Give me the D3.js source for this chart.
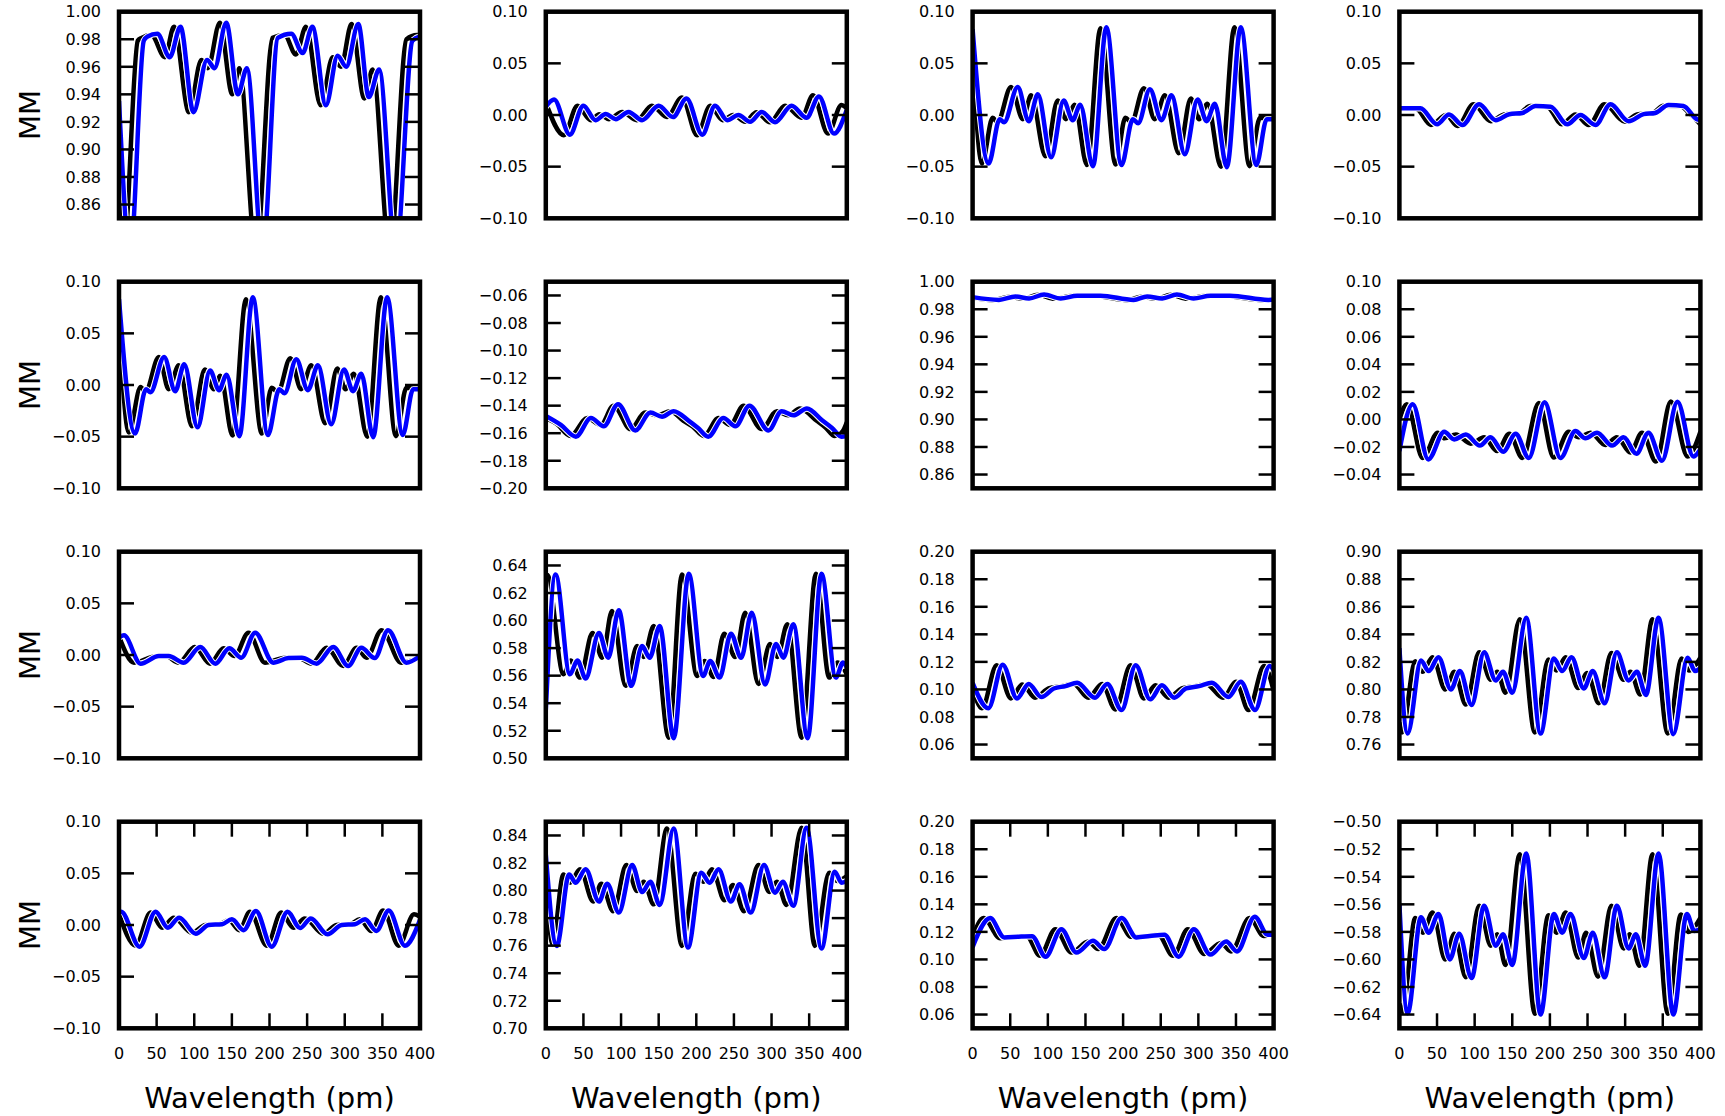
<!DOCTYPE html>
<html><head><meta charset="utf-8">
<script src="https://cdn.jsdelivr.net/npm/d3@7"></script>
<style>
body{margin:0;background:#fff}
svg{display:block}
text{font-family:"DejaVu Sans",sans-serif;fill:#000}
</style>
</head><body>
<svg id="chart" width="1725" height="1116"></svg>
<script>
// ---------------- data (wavelength in pm, Mueller-matrix value) ----------------
const wavelengthTicks = [0,50,100,150,200,250,300,350,400];

const m11Black = [[0,0.90],[6,0.825],[25,0.979],[30,0.981],[43,0.983],[61,0.967],[73,0.989],[93,0.927],[109.5,0.965],[118,0.959],[134,0.992],[150.5,0.94],[160,0.959],[182,0.825],[204,0.981],[220,0.983],[235,0.969],[248.5,0.989],[268,0.932],[284,0.967],[295,0.96],[309,0.991],[326,0.937],[337,0.958],[360,0.825],[382,0.98],[396,0.983],[400,0.983]];
const m11Blue = [[0,0.935],[15,0.825],[33,0.979],[38,0.982],[51,0.984],[67.5,0.967],[81.7,0.989],[99,0.927],[117,0.965],[127,0.959],[142.6,0.992],[158,0.94],[170,0.959],[191,0.825],[211,0.981],[229,0.984],[244,0.97],[257,0.989],[275,0.932],[290.5,0.968],[302,0.96],[318,0.991],[332,0.938],[345.7,0.958],[368,0.825],[390,0.979],[400,0.982]];

const m12Black = [[0,0.012],[24,-0.0195],[42,0.009],[60,-0.005],[71,0.0007],[84,-0.004],[101.5,0.003],[121,-0.005],[141,0.009],[161,-0.002],[181,0.017],[201,-0.0195],[218.5,0.009],[235,-0.005],[249,0.0],[265,-0.0065],[280,0.0026],[298,-0.007],[318,0.009],[340,-0.0026],[355,0.019],[375,-0.018],[393,0.0097],[400,0.0065]];
const m12Blue = [[0,0.008],[11,0.015],[32,-0.019],[50,0.009],[66,-0.005],[79.5,0.001],[93,-0.004],[110,0.003],[128,-0.005],[150,0.009],[169,-0.002],[187,0.016],[208,-0.019],[225,0.009],[241,-0.005],[256,0.0],[271.5,-0.0065],[287,0.003],[304.6,-0.007],[326.7,0.009],[346.6,-0.0026],[363,0.018],[383,-0.018],[400,0.005]];

const m13Black = [[0,0.06],[12.4,-0.047],[26.7,-0.0026],[33,-0.007],[51,0.027],[66.7,-0.004],[77.8,0.019],[96.9,-0.04],[113,0.014],[124,-0.004],[135.6,0.010],[152,-0.0485],[170,0.084],[190,-0.048],[203,-0.0026],[211,-0.007],[227.6,0.026],[242,-0.004],[255.6,0.019],[274,-0.037],[290,0.016],[301,-0.004],[312,0.011],[330,-0.05],[348,0.085],[368,-0.0495],[382,-0.0026],[400,-0.003]];
const m13Blue = [[0,0.083],[21.3,-0.047],[36,-0.004],[41.8,-0.007],[60,0.027],[74.7,-0.006],[86.7,0.020],[104.4,-0.041],[121,0.014],[133,-0.005],[143,0.010],[160,-0.0495],[177.8,0.085],[197.8,-0.0485],[213,-0.004],[220,-0.008],[235.6,0.025],[251,-0.005],[264.4,0.019],[282,-0.038],[299,0.015],[311,-0.006],[322,0.011],[337.8,-0.0505],[356.4,0.085],[377,-0.0485],[391,-0.004],[400,-0.004]];

const m14Black = [[0,0.006],[22,0.006],[42,-0.0097],[62,0.0],[77.3,-0.0107],[98.5,0.0104],[121.4,-0.006],[139,0.0006],[159,0.0016],[174,0.0087],[196.5,0.0078],[216,-0.009],[234,0.0006],[251.6,-0.0097],[272.4,0.0104],[300,-0.0065],[315.7,0.0006],[335.5,0.0016],[351,0.009],[373,0.0087],[386.5,0.0006],[400,-0.009]];
const m14Blue = [[0,0.0065],[28,0.0065],[50,-0.009],[66,0.0006],[84,-0.0097],[106,0.0104],[128,-0.005],[146,0.0008],[163.5,0.002],[181,0.0087],[201,0.008],[223,-0.009],[240.7,0.0],[260.6,-0.0097],[280.6,0.0104],[304.6,-0.006],[324.5,0.0008],[340,0.002],[357.6,0.0097],[377.5,0.0087],[395,-0.004],[400,-0.005]];

const m21Black = [[0,0.062],[13,-0.046],[28.7,-0.002],[35,-0.007],[53,0.027],[66,-0.004],[79.5,0.019],[97,-0.04],[114,0.015],[126,-0.004],[134.7,0.009],[151,-0.049],[168.7,0.083],[189.8,-0.047],[203,-0.0026],[211,-0.007],[227.6,0.026],[242,-0.004],[255.6,0.019],[274,-0.037],[290,0.016],[301,-0.004],[312,0.011],[330,-0.05],[348,0.085],[368,-0.0495],[382,-0.0026],[400,-0.003]];
const m21Blue = [[0,0.083],[21.3,-0.047],[36,-0.004],[41.8,-0.007],[60,0.027],[74.7,-0.006],[86.7,0.020],[104.4,-0.041],[121,0.014],[133,-0.005],[143,0.010],[160,-0.0495],[177.8,0.085],[197.8,-0.0485],[213,-0.004],[220,-0.008],[235.6,0.025],[251,-0.005],[264.4,0.019],[282,-0.038],[299,0.015],[311,-0.006],[322,0.011],[337.8,-0.0505],[356.4,0.085],[377,-0.0485],[391,-0.004],[400,-0.004]];

const m22Black = [[0,-0.149],[14,-0.153],[33,-0.162],[55,-0.149],[73,-0.154],[90,-0.140],[112.6,-0.157],[132,-0.145],[148,-0.147],[165.5,-0.144],[183,-0.151],[195,-0.155],[210,-0.162],[229.6,-0.149],[245,-0.154],[262.7,-0.140],[287,-0.157],[307,-0.144],[322,-0.147],[337.7,-0.142],[360,-0.151],[372,-0.156],[384,-0.162],[394,-0.159],[400,-0.152]];
const m22Blue = [[0,-0.1475],[20,-0.154],[40,-0.1625],[60,-0.149],[77,-0.155],[96,-0.139],[119,-0.158],[139,-0.145],[154.5,-0.148],[170,-0.144],[190,-0.151],[202,-0.156],[216,-0.1625],[236,-0.149],[252,-0.155],[270.6,-0.140],[296,-0.158],[313.5,-0.144],[329,-0.147],[347,-0.142],[368,-0.151],[380,-0.156],[393,-0.1625],[400,-0.162]];

const m23Black = [[0,0.9885],[27,0.9866],[49,0.9891],[67,0.9876],[87,0.9905],[109,0.9876],[131,0.9896],[162,0.9896],[206,0.9866],[224,0.9891],[244,0.9876],[263.5,0.9905],[285.6,0.9876],[308,0.9896],[334,0.9896],[385,0.9866],[400,0.9868]];
const m23Blue = [[0,0.9888],[35,0.9868],[57,0.9893],[75,0.9878],[95,0.9907],[117,0.9878],[139,0.9898],[170,0.9898],[214,0.9868],[232,0.9893],[252,0.9878],[271.5,0.9907],[293.6,0.9878],[316,0.9898],[342,0.9898],[393,0.9868],[400,0.987]];

const m24Black = [[0,0.0],[10,0.011],[31,-0.028],[51,-0.0096],[60,-0.0137],[75,-0.011],[95,-0.0176],[112.6,-0.013],[130,-0.023],[146,-0.0104],[163.5,-0.028],[185.4,0.012],[205,-0.0277],[225,-0.009],[238.4,-0.013],[254,-0.0096],[273.7,-0.0186],[289,-0.013],[307,-0.024],[322.3,-0.0096],[341,-0.0306],[360.7,0.013],[383,-0.027],[400,-0.009]];
const m24Blue = [[0,-0.023],[17.7,0.011],[38.4,-0.029],[59.6,-0.009],[72.8,-0.0145],[88.3,-0.011],[107,-0.019],[121,-0.013],[138,-0.0234],[154.5,-0.0104],[172,-0.028],[193,0.0125],[214,-0.028],[234,-0.0084],[247.2,-0.0137],[262.7,-0.0096],[282.6,-0.019],[298,-0.013],[315,-0.025],[331,-0.0096],[349,-0.030],[369.5,0.0128],[390.7,-0.027],[400,-0.0217]];

const m31Black = [[0,0.018],[20,-0.0074],[44,-0.002],[62,-0.001],[79.5,-0.0074],[100.7,0.0077],[121,-0.0084],[139,0.0065],[153.6,-0.001],[172,0.0216],[194,-0.0074],[220.8,-0.0026],[238,-0.0026],[256,-0.0084],[276,0.007],[298,-0.0106],[315.7,0.007],[329,-0.0026],[349,0.024],[375,-0.0074],[400,-0.0026]];
const m31Blue = [[0,0.017],[6.6,0.019],[28.7,-0.0084],[53,-0.001],[66,-0.001],[86,-0.0074],[108,0.0077],[128,-0.0084],[146.6,0.0065],[162.5,-0.0026],[181,0.0216],[205,-0.0074],[225,-0.003],[243,-0.0026],[262.7,-0.0084],[284.8,0.0077],[304.6,-0.0106],[322,0.007],[340,-0.003],[357.6,0.024],[382,-0.0074],[400,-0.001]];

const m32Black = [[0,0.630],[2,0.633],[23.4,0.561],[33,0.571],[45.5,0.5586],[62,0.591],[75,0.573],[88,0.607],[106,0.5526],[121.4,0.5815],[130,0.5736],[143.5,0.596],[163.4,0.515],[181,0.6335],[201,0.5598],[211,0.5707],[223,0.559],[237,0.5905],[251.6,0.5736],[265,0.6057],[282.6,0.554],[298,0.583],[307.7,0.5736],[321,0.5973],[340,0.515],[359,0.634],[376.6,0.5586],[387.6,0.5695],[400,0.561]];
const m32Blue = [[0,0.535],[13,0.6335],[32,0.561],[42,0.571],[53,0.558],[70.6,0.591],[83,0.573],[97,0.6074],[113.5,0.5526],[128,0.5815],[138,0.573],[151.4,0.596],[170,0.5146],[190,0.634],[209,0.5598],[218.5,0.5707],[231,0.5586],[246,0.5905],[259.6,0.573],[273.7,0.6057],[291.4,0.5535],[306,0.583],[315.7,0.573],[329,0.5973],[348,0.5146],[366.4,0.634],[385.4,0.5586],[395,0.5695],[400,0.566]];

const m33Black = [[0,0.101],[12.4,0.0863],[32,0.1176],[51,0.0935],[66,0.1036],[83,0.094],[101,0.1007],[118.5,0.1024],[134,0.104],[154,0.094],[172,0.104],[189.7,0.0855],[210,0.1176],[227.6,0.0935],[243,0.103],[260.6,0.094],[278,0.1007],[296,0.1024],[310,0.104],[333,0.094],[350,0.1055],[366.6,0.085],[387.4,0.117],[400,0.099]];
const m33Blue = [[0,0.1048],[21,0.0863],[40,0.118],[59,0.0935],[74.6,0.104],[91.4,0.0945],[108,0.1007],[123.5,0.1024],[139,0.1048],[162.6,0.094],[179,0.104],[198,0.085],[216.8,0.1176],[236,0.0928],[251.6,0.103],[268,0.094],[283.6,0.1007],[301,0.1024],[318,0.1048],[340,0.0945],[356.4,0.1055],[375.4,0.085],[394.7,0.117],[400,0.114]];

const m34Black = [[0,0.776],[3.5,0.7687],[21,0.8205],[31,0.8128],[44,0.8234],[61,0.80],[73,0.8128],[88.3,0.789],[106,0.827],[121.4,0.807],[130,0.8128],[141,0.7976],[160,0.851],[180,0.7687],[198,0.8217],[208.6,0.8137],[221,0.8234],[237.6,0.801],[249.5,0.812],[265,0.790],[281.7,0.8265],[298,0.807],[307,0.8128],[320,0.7964],[336.4,0.851],[356.7,0.768],[375,0.8224],[385,0.8137],[400,0.823]];
const m34Blue = [[0,0.83],[11,0.768],[28.7,0.821],[38.8,0.8133],[52,0.8234],[68.4,0.80],[80.4,0.8133],[96,0.7887],[112.6,0.827],[128,0.8065],[137.7,0.8128],[150,0.7976],[168.6,0.852],[187.6,0.768],[205.3,0.8224],[216.3,0.8133],[228.7,0.8234],[245,0.8007],[257,0.8133],[272.8,0.790],[289,0.827],[304.6,0.8065],[315.7,0.8128],[327.6,0.796],[344.4,0.852],[364,0.7675],[383,0.823],[393,0.8133],[400,0.8157]];

const m41Black = [[0,0.011],[22,-0.020],[42,0.012],[57.4,-0.0026],[72.8,0.007],[97,-0.0074],[115,0.0],[132,0.0006],[146,0.0045],[160,-0.005],[174,0.0129],[196.5,-0.020],[215.5,0.012],[231.8,-0.0026],[247,0.0064],[271.5,-0.0084],[289,0.0],[307,0.0008],[320,0.0055],[335.5,-0.0058],[351,0.014],[371.7,-0.020],[392,0.0103],[400,0.008]];
const m41Blue = [[0,0.012],[3,0.0129],[27.4,-0.021],[48.6,0.0129],[65,-0.0026],[80,0.007],[102,-0.0084],[119,0.0],[137,0.0008],[150,0.0055],[165.6,-0.005],[182,0.0135],[203,-0.021],[224,0.0129],[240.6,-0.003],[255,0.0064],[277,-0.009],[296,0.0],[313.5,0.0008],[327,0.0055],[342,-0.0058],[358.5,0.014],[380,-0.020],[400,0.005]];

const m42Black = [[0,0.809],[9,0.761],[23.4,0.8117],[32,0.8057],[45.5,0.8154],[63,0.792],[73.7,0.805],[89.6,0.785],[107,0.8185],[121.4,0.7997],[130,0.8064],[143.5,0.79],[161,0.845],[181,0.7598],[198.7,0.8122],[209.7,0.8064],[220.8,0.8154],[237.5,0.793],[248.6,0.804],[263.6,0.785],[282.6,0.8185],[297,0.799],[307,0.8064],[320,0.7895],[340,0.8456],[357.6,0.7598],[376.6,0.813],[387,0.807],[400,0.8105]];
const m42Blue = [[0,0.826],[14.6,0.7598],[31,0.8117],[39.7,0.8057],[53,0.8154],[70.6,0.792],[81.7,0.805],[97,0.784],[114.8,0.8185],[128,0.799],[139,0.8064],[151.4,0.7895],[170,0.845],[189,0.7586],[206.6,0.813],[217.7,0.8057],[229.6,0.8154],[246,0.792],[257.4,0.8045],[272.4,0.784],[290,0.8185],[304.6,0.7985],[315,0.8064],[329,0.789],[346.6,0.8456],[366.4,0.758],[384,0.8137],[393,0.8057],[400,0.807]];

const m43Black = [[0,0.116],[14.6,0.130],[36.7,0.1154],[52,0.1164],[72,0.1166],[89.6,0.1027],[110,0.122],[131.4,0.105],[153.6,0.113],[167,0.1075],[191,0.130],[211,0.1164],[229,0.1166],[246.5,0.118],[266.5,0.1027],[286,0.122],[308,0.104],[330,0.112],[343.4,0.1058],[368,0.130],[387,0.117],[400,0.118]];
const m43Blue = [[0,0.109],[23.4,0.130],[42,0.116],[61,0.1165],[79,0.1168],[97,0.102],[118,0.122],[138,0.105],[160,0.1135],[175,0.1075],[198,0.130],[217.7,0.116],[235.4,0.117],[255,0.118],[273.7,0.102],[294,0.122],[316,0.1035],[337,0.113],[351.4,0.1058],[375,0.131],[392,0.118],[400,0.118]];

const m44Black = [[0,-0.632],[4.4,-0.638],[21,-0.570],[31,-0.5806],[44,-0.566],[61,-0.600],[73,-0.5813],[88.3,-0.613],[106,-0.561],[121.4,-0.590],[130,-0.5818],[141,-0.604],[160,-0.5236],[180,-0.6395],[198,-0.568],[208.6,-0.5806],[221,-0.566],[237.6,-0.5986],[248,-0.5806],[264,-0.6125],[281.7,-0.561],[298,-0.592],[306,-0.5818],[319,-0.6046],[336.4,-0.5236],[356.7,-0.6395],[374,-0.5674],[384,-0.58],[400,-0.5698]];
const m44Blue = [[0,-0.56],[11,-0.639],[28.7,-0.5693],[38.8,-0.5806],[52,-0.567],[67,-0.600],[79.5,-0.5813],[96,-0.6135],[112.6,-0.561],[128,-0.590],[137.7,-0.5818],[150,-0.604],[168.6,-0.523],[187.6,-0.640],[205.3,-0.567],[216.3,-0.5806],[227.4,-0.567],[245,-0.599],[257,-0.5806],[272.8,-0.613],[289,-0.561],[304.6,-0.592],[314.3,-0.5818],[326.7,-0.6046],[344.4,-0.523],[364,-0.640],[382,-0.567],[392,-0.5794],[400,-0.578]];

// y tick labels per panel
const ticksNearOne = [0.86,0.88,0.90,0.92,0.94,0.96,0.98,1.00];
const ticksZero    = [-0.10,-0.05,0.00,0.05,0.10];
const ticksM22     = [-0.20,-0.18,-0.16,-0.14,-0.12,-0.10,-0.08,-0.06];
const ticksM24     = [-0.04,-0.02,0.00,0.02,0.04,0.06,0.08,0.10];
const ticksM32     = [0.50,0.52,0.54,0.56,0.58,0.60,0.62,0.64];
const ticksLow     = [0.06,0.08,0.10,0.12,0.14,0.16,0.18,0.20];
const ticksM34     = [0.76,0.78,0.80,0.82,0.84,0.86,0.88,0.90];
const ticksM42     = [0.70,0.72,0.74,0.76,0.78,0.80,0.82,0.84];
const ticksM44     = [-0.64,-0.62,-0.60,-0.58,-0.56,-0.54,-0.52,-0.50];

const yLabel = "MM";
const xLabel = "Wavelength (pm)";

// ---------------- layout ----------------
const panels = [
  {row:0,col:0,black:m11Black,blue:m11Blue,domain:[0.85,1.00],ticks:ticksNearOne},
  {row:0,col:1,black:m12Black,blue:m12Blue,domain:[-0.10,0.10],ticks:ticksZero},
  {row:0,col:2,black:m13Black,blue:m13Blue,domain:[-0.10,0.10],ticks:ticksZero},
  {row:0,col:3,black:m14Black,blue:m14Blue,domain:[-0.10,0.10],ticks:ticksZero},
  {row:1,col:0,black:m21Black,blue:m21Blue,domain:[-0.10,0.10],ticks:ticksZero},
  {row:1,col:1,black:m22Black,blue:m22Blue,domain:[-0.20,-0.05],ticks:ticksM22},
  {row:1,col:2,black:m23Black,blue:m23Blue,domain:[0.85,1.00],ticks:ticksNearOne},
  {row:1,col:3,black:m24Black,blue:m24Blue,domain:[-0.05,0.10],ticks:ticksM24},
  {row:2,col:0,black:m31Black,blue:m31Blue,domain:[-0.10,0.10],ticks:ticksZero},
  {row:2,col:1,black:m32Black,blue:m32Blue,domain:[0.50,0.65],ticks:ticksM32},
  {row:2,col:2,black:m33Black,blue:m33Blue,domain:[0.05,0.20],ticks:ticksLow},
  {row:2,col:3,black:m34Black,blue:m34Blue,domain:[0.75,0.90],ticks:ticksM34},
  {row:3,col:0,black:m41Black,blue:m41Blue,domain:[-0.10,0.10],ticks:ticksZero},
  {row:3,col:1,black:m42Black,blue:m42Blue,domain:[0.70,0.85],ticks:ticksM42},
  {row:3,col:2,black:m43Black,blue:m43Blue,domain:[0.05,0.20],ticks:ticksLow},
  {row:3,col:3,black:m44Black,blue:m44Blue,domain:[-0.65,-0.50],ticks:ticksM44}
];

const W = 301, H = 206.6;
const lefts = [119, 545.8, 972.6, 1399.4];
const tops  = [11.7, 281.7, 551.7, 821.7];
const tickLen = 15;
const fmt = d3.format(".2f");

const svg = d3.select("#chart");
svg.append("rect").attr("width",1725).attr("height",1116).attr("fill","#fff");

const x = d3.scaleLinear().domain([0,400]).range([0,W]);

panels.forEach((p,i) => {
  const g = svg.append("g").attr("transform",`translate(${lefts[p.col]},${tops[p.row]})`);
  const y = d3.scaleLinear().domain(p.domain).range([H,0]);
  const clipId = "clip"+i;
  g.append("clipPath").attr("id",clipId).append("rect").attr("width",W).attr("height",H);

  const line = d3.line().x(d=>x(d[0])).y(d=>y(d[1])).curve(d3.curveMonotoneX);
  const plot = g.append("g").attr("clip-path",`url(#${clipId})`);
  plot.append("path").attr("d",line(p.black)).attr("fill","none").attr("stroke","#000").attr("stroke-width",4.5).attr("stroke-linejoin","round");
  plot.append("path").attr("d",line(p.blue)).attr("fill","none").attr("stroke","#fff").attr("stroke-width",6.5).attr("stroke-linejoin","round");
  plot.append("path").attr("d",line(p.blue)).attr("fill","none").attr("stroke","#0000ff").attr("stroke-width",4.5).attr("stroke-linejoin","round");

  // y ticks, both sides, inward
  p.ticks.forEach(t => {
    const yy = y(t);
    g.append("line").attr("x1",0).attr("x2",tickLen).attr("y1",yy).attr("y2",yy).attr("stroke","#000").attr("stroke-width",2.5);
    g.append("line").attr("x1",W-tickLen).attr("x2",W).attr("y1",yy).attr("y2",yy).attr("stroke","#000").attr("stroke-width",2.5);
    g.append("text").attr("x",-18).attr("y",yy).attr("dy","0.36em").attr("text-anchor","end")
      .attr("font-size",16).text(fmt(t));
  });

  // x ticks only on the bottom row
  if (p.row === 3) {
    wavelengthTicks.forEach(t => {
      const xx = x(t);
      g.append("line").attr("x1",xx).attr("x2",xx).attr("y1",H).attr("y2",H-tickLen).attr("stroke","#000").attr("stroke-width",2.5);
      g.append("line").attr("x1",xx).attr("x2",xx).attr("y1",0).attr("y2",tickLen).attr("stroke","#000").attr("stroke-width",2.5);
      g.append("text").attr("x",xx).attr("y",H+31).attr("text-anchor","middle").attr("font-size",16).text(t);
    });
    g.append("text").attr("x",W/2).attr("y",H+80).attr("text-anchor","middle").attr("font-size",29).text(xLabel);
  }

  if (p.col === 0) {
    g.append("text").attr("transform",`translate(${-89},${H/2}) rotate(-90)`).attr("text-anchor","middle")
      .attr("dy","0.36em").attr("font-size",29).text(yLabel);
  }

  g.append("rect").attr("width",W).attr("height",H).attr("fill","none").attr("stroke","#000").attr("stroke-width",4.5);
});
</script>
</body></html>
